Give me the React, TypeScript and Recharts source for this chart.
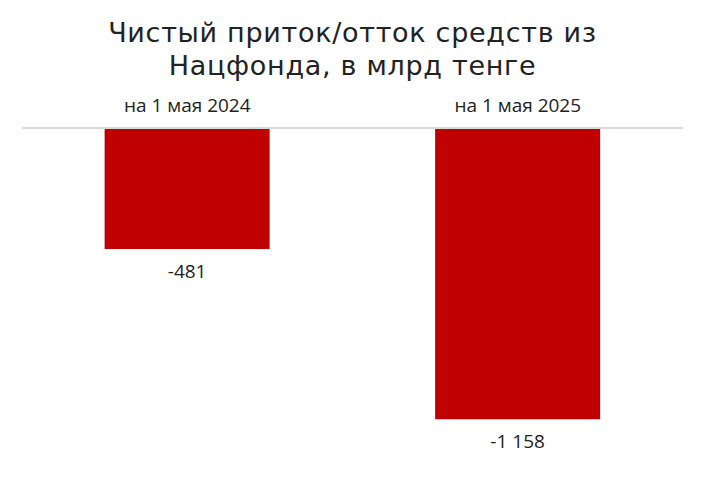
import React from "react";
import { BarChart, Bar, XAxis, YAxis, LabelList } from "recharts";

const categories = ["на 1 мая 2024", "на 1 мая 2025"];
const values = [-481, -1158];
const valueLabels = ["-481", "-1 158"];
const titleLines = ["Чистый приток/отток средств из", "Нацфонда, в млрд тенге"];

const data = categories.map((c, i) => ({ name: c, value: values[i], label: valueLabels[i] }));

const FONT = "'Open Sans', sans-serif";
const TITLE_FONT = "'DejaVu Sans', sans-serif";

const TopTick = (props: any) => {
  const { x, payload } = props;
  return (
    <text x={x} y={112} textAnchor="middle" fontSize={19} fill="#222" fontFamily={FONT}>
      {payload.value}
    </text>
  );
};

const ValueLabel = (props: any) => {
  const { x, y, width, height, index } = props;
  const bottom = Math.max(y, y + height);
  return (
    <text x={x + width / 2} y={bottom + 29} textAnchor="middle" fontSize={19} fill="#222" fontFamily={FONT}>
      {valueLabels[index]}
    </text>
  );
};

export default function App() {
  return (
    <div style={{ position: "absolute", left: 0, top: 0, width: 705, height: 504, background: "#fff" }}>
      <div
        style={{
          position: "absolute",
          left: 0,
          top: 16,
          width: 705,
          textAlign: "center",
          fontFamily: TITLE_FONT,
          fontSize: 27,
          lineHeight: "33px",
          letterSpacing: "0.7px",
          color: "#222",
        }}
      >
        {titleLines.map((l, i) => (
          <div key={i}>{l}</div>
        ))}
      </div>
      <BarChart
        width={705}
        height={504}
        data={data}
        margin={{ top: 98, right: 22, bottom: 24, left: 22 }}
        barCategoryGap="25%"
      >
        <XAxis
          dataKey="name"
          orientation="top"
          height={30}
          axisLine={{ stroke: "#d9d9d9", strokeWidth: 2 }}
          tickLine={false}
          tick={<TopTick />}
          interval={0}
        />
        <YAxis hide domain={[-1400, 0]} />
        <Bar dataKey="value" fill="#c00000" isAnimationActive={false}>
          <LabelList dataKey="label" content={<ValueLabel />} />
        </Bar>
      </BarChart>
    </div>
  );
}
